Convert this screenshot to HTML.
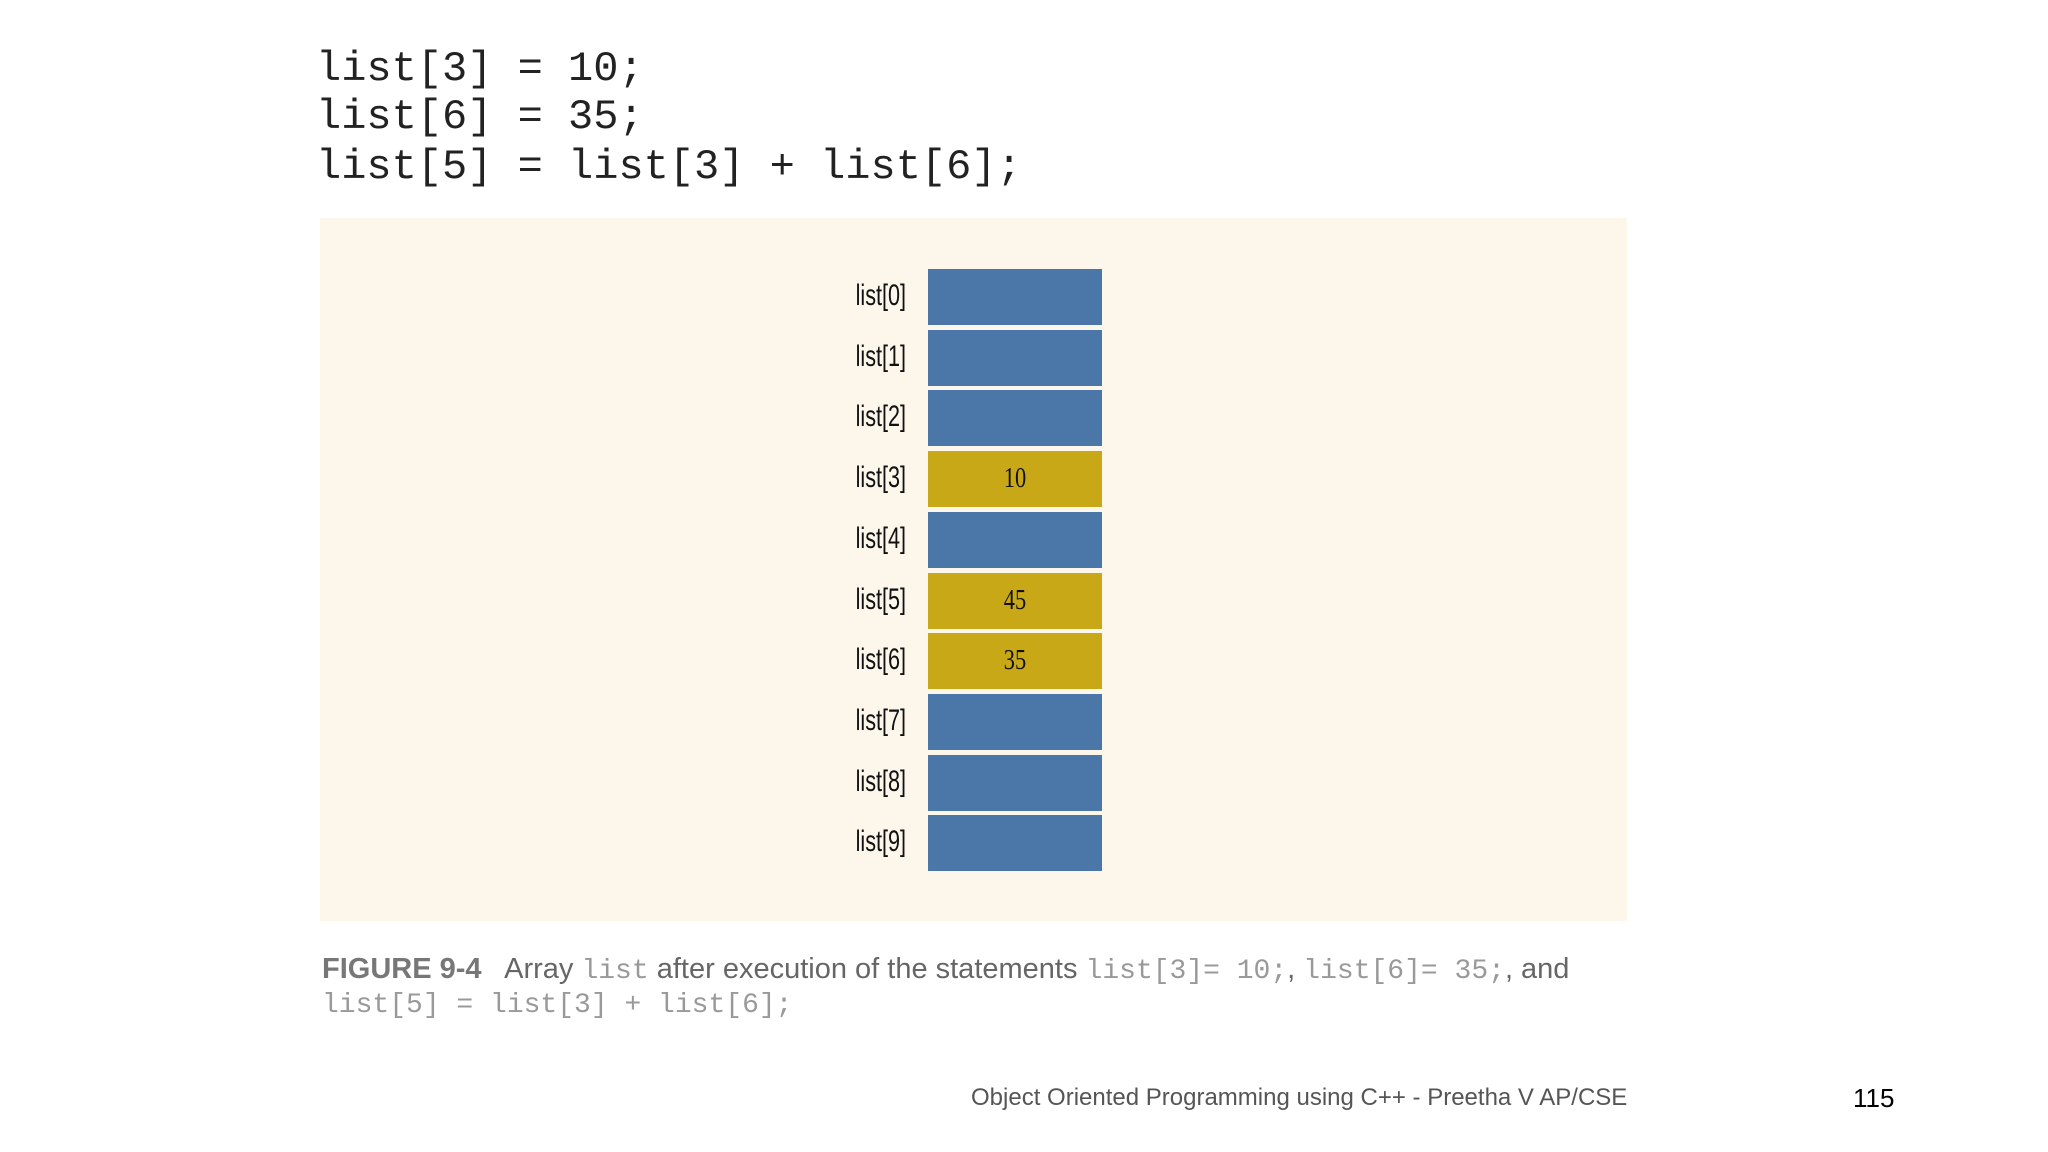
<!DOCTYPE html>
<html><head><meta charset="utf-8"><style>
body{margin:0;width:2048px;height:1152px;background:#fff;position:relative;overflow:hidden;font-family:"Liberation Sans",sans-serif}
.code{position:absolute;left:316px;font-family:"Liberation Mono",monospace;font-size:42px;color:#222;white-space:pre;line-height:1}
#panel{position:absolute;left:320px;top:218px;width:1307px;height:703px;background:#fcf6eb}
.lbl{position:absolute;font-family:"Liberation Sans",sans-serif;font-size:30px;color:#111;transform:scaleX(0.72);transform-origin:right center;text-align:right;white-space:nowrap}
.cell{position:absolute;box-sizing:border-box;display:flex;align-items:center;justify-content:center;font-family:"Liberation Serif",serif;font-size:28px;color:#111}
.cap{position:absolute;left:322px;font-size:29px;color:#666;white-space:nowrap}
.mono{font-family:"Liberation Mono",monospace;color:#999;font-size:28px}
</style></head><body>
<div class="code" style="top:48px">list[3] = 10;</div>
<div class="code" style="top:96px">list[6] = 35;</div>
<div class="code" style="top:146px">list[5] = list[3] + list[6];</div>
<div id="panel"></div>
<div class="cap" style="top:953px"><b style="color:#777">FIGURE 9-4</b>&nbsp;&nbsp; Array <span class="mono">list</span> after execution of the statements <span class="mono">list[3]= 10;</span>, <span class="mono">list[6]= 35;</span>, and</div>
<div class="cap" style="top:987px"><span class="mono">list[5] = list[3] + list[6];</span></div>
<div style="position:absolute;left:971px;top:1084px;font-size:24px;color:#555;white-space:nowrap">Object Oriented Programming using C++ - Preetha V AP/CSE</div>
<div style="position:absolute;left:1853px;top:1083px;font-size:26px;color:#000">115</div>
<script>
const labels=["list[0]","list[1]","list[2]","list[3]","list[4]","list[5]","list[6]","list[7]","list[8]","list[9]"];
const values=["","","","10","","45","35","","",""];
const top0=269,pitch=60.7,left=928,w=174,h=56;
for(let i=0;i<labels.length;i++){
  const y=top0+i*pitch;
  const l=document.createElement('div');
  l.className='lbl';
  
  
  l.style.right=(2048-906)+'px';l.style.top=(y+10)+'px';
  l.textContent=labels[i];document.body.appendChild(l);
  const c=document.createElement('div');
  c.className='cell';
  
  
  c.style.left=left+'px';c.style.top=y+'px';c.style.width=w+'px';c.style.height=h+'px';
  c.style.background=values[i]?'#c9a818':'#4a76a8';
  c.innerHTML='<span style="display:inline-block;transform:scaleX(0.8)">'+values[i]+'</span>';
  document.body.appendChild(c);
}
</script>
</body></html>
